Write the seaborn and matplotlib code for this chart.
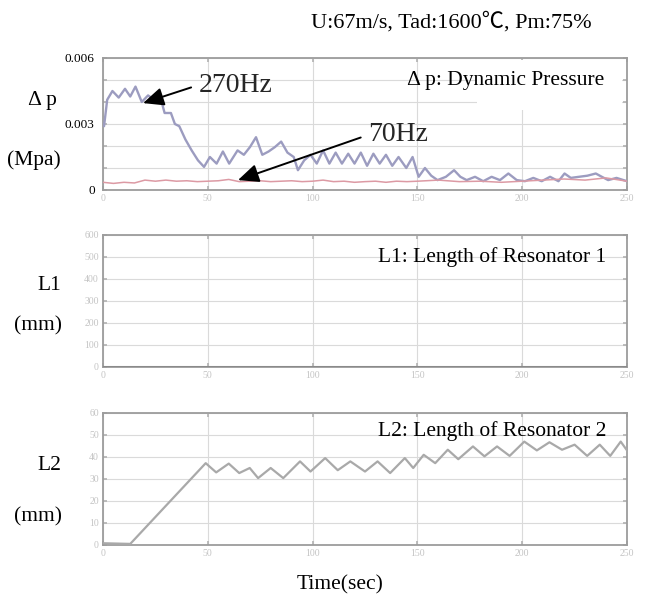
import matplotlib
matplotlib.use("Agg")
import matplotlib.pyplot as plt
import seaborn as sns
import pandas as pd
from matplotlib.patches import Rectangle

# ---------------- data ----------------
time_270 = [0, 0.5, 2, 4.5, 7.5, 10.5, 13, 15.5, 18.5, 21.5, 24.5, 27.4, 29.4, 32.4, 34.3,
            36.4, 39.3, 42.3, 45.3, 48.2, 51, 54.2, 57.2, 60.2, 64.2, 67.2, 70.1, 73, 76,
            79, 82, 85, 88, 91, 93, 96, 99, 102, 105, 108, 111, 114, 117, 120, 123, 126,
            129, 132, 135, 138, 141, 144.7, 147.7, 150.6, 153.6, 156.6, 159.6, 163.6,
            167.5, 170.5, 173.5, 177.5, 181.4, 185.4, 189.4, 193.4, 197.4, 201.3, 205.3,
            209.3, 213.3, 217.3, 220.2, 223.2, 227.1, 231.1, 235.1, 238, 241, 245, 250]
dp_270 = [3.0, 2.9, 4.1, 4.5, 4.2, 4.6, 4.25, 4.7, 4.0, 4.3, 4.1, 4.2, 3.5, 3.5, 3.0,
          2.9, 2.3, 1.8, 1.35, 1.05, 1.5, 1.2, 1.75, 1.2, 1.8, 1.6, 1.95, 2.4, 1.6,
          1.75, 1.95, 2.2, 1.7, 1.5, 0.9, 1.35, 1.6, 1.2, 1.8, 1.2, 1.7, 1.2, 1.65, 1.2,
          1.7, 1.1, 1.65, 1.2, 1.6, 1.1, 1.5, 1.0, 1.5, 0.6, 1.0, 0.65, 0.45, 0.6,
          0.9, 0.6, 0.45, 0.6, 0.4, 0.6, 0.45, 0.75, 0.45, 0.4, 0.55,
          0.4, 0.6, 0.4, 0.75, 0.55, 0.6, 0.65, 0.75, 0.6, 0.45, 0.55, 0.4]

time_70 = [0, 5, 10, 15, 20, 25, 30, 35, 40, 45, 50, 55, 60, 65, 70, 75, 80, 85, 90, 95,
           100, 105, 110, 115, 120, 125, 130, 135, 140, 145, 150, 160, 170, 180, 190,
           200, 210, 220, 230, 240, 250]
dp_70 = [0.35, 0.3, 0.35, 0.32, 0.45, 0.4, 0.45, 0.4, 0.42, 0.38, 0.4, 0.42, 0.48, 0.38,
         0.4, 0.42, 0.38, 0.4, 0.42, 0.38, 0.4, 0.45, 0.38, 0.4, 0.35, 0.38, 0.4, 0.35,
         0.4, 0.38, 0.4, 0.45, 0.38, 0.4, 0.35, 0.4, 0.45, 0.5, 0.45, 0.55, 0.4]

time_L1 = [0, 250]
len_L1 = [0, 0]

time_L2 = [0, 13, 49, 54, 60, 65, 70, 74, 80, 86, 94, 99, 106, 112, 118, 125, 131, 137,
           144, 148, 153, 158.5, 164.5, 169.5, 176.5, 182, 188, 194, 201, 207, 213, 219,
           225, 231, 237, 242, 247, 250]
len_L2 = [0.8, 0.5, 37.2, 33, 37, 32.7, 35, 30.4, 35, 30.4, 38, 33.4, 39.5, 34, 38, 33.4,
          38, 32.7, 39.5, 35, 41, 37.2, 43.3, 39, 44.8, 40.3, 44.8, 40.5, 47, 43, 46.7,
          43.3, 45.6, 40.5, 45.6, 40.5, 47, 43]

x_ticks = [0, 50, 100, 150, 200, 250]
dp_ticks = [0, 0.001, 0.002, 0.003, 0.004, 0.005, 0.006]
dp_ticklabels = ["0", "", "", "0.003", "", "", "0.006"]
L1_ticks = [0, 100, 200, 300, 400, 500, 600]
L2_ticks = [0, 10, 20, 30, 40, 50, 60]

df270 = pd.DataFrame({"t": time_270, "p": [v * 1e-3 for v in dp_270]})
df70 = pd.DataFrame({"t": time_70, "p": [v * 1e-3 for v in dp_70]})
dfL1 = pd.DataFrame({"t": time_L1, "L": len_L1})
dfL2 = pd.DataFrame({"t": time_L2, "L": len_L2})

# ---------------- style ----------------
sns.set_theme(style="whitegrid")
plt.rcParams["font.family"] = ["Liberation Serif", "DejaVu Serif", "DejaVu Sans"]

fig = plt.figure(figsize=(6.51, 5.97), dpi=100)
W, H = 651.0, 597.0
left, right = 103, 627
FS = 15.5


def add_ax(top, bottom):
    return fig.add_axes([left / W, 1 - bottom / H, (right - left) / W, (bottom - top) / H])


ax1 = add_ax(58, 190)
ax2 = add_ax(235, 367)
ax3 = add_ax(413, 545)

# top panel
sns.lineplot(data=df270, x="t", y="p", ax=ax1, color="#9c9cc0", lw=1.7, zorder=3)
sns.lineplot(data=df70, x="t", y="p", ax=ax1, color="#dc9aa4", lw=1.1, zorder=3)
# L1 panel
sns.lineplot(data=dfL1, x="t", y="L", ax=ax2, color="#8a8a8a", lw=2.2, zorder=3)
# L2 panel
sns.lineplot(data=dfL2, x="t", y="L", ax=ax3, color="#a9a9a9", lw=1.6, zorder=3)

grid_c = "#dadada"
spine_c = "#9c9c9c"
light_lab = "#c4c4c4"

for ax in (ax1, ax2, ax3):
    ax.set_facecolor("white")
    ax.set_axisbelow(True)
    ax.grid(True, color=grid_c, lw=0.8)
    for s in ax.spines.values():
        s.set_color(spine_c)
        s.set_linewidth(1.3)
        s.set_visible(True)
    ax.set_xlim(0, 250)
    ax.set_xticks(x_ticks)
    ax.tick_params(axis="both", direction="in", length=3, color="#b4b4b4",
                   top=True, right=True, bottom=True, left=True)
    ax.tick_params(axis="x", labelsize=7, labelcolor=light_lab, pad=3)
    ax.set_xlabel("")
    ax.set_ylabel("")

ax1.set_ylim(0, 0.006)
ax1.set_yticks(dp_ticks)
ax1.set_yticklabels(dp_ticklabels)
ax1.tick_params(axis="y", labelsize=9.5, labelcolor="black", pad=6)
ax1.add_patch(Rectangle((0.713, 0.606), 0.277, 0.38, transform=ax1.transAxes,
                        facecolor="white", edgecolor="none", zorder=1))
ax1.text(0.58, 0.833, "Δ p: Dynamic Pressure", transform=ax1.transAxes,
         ha="left", va="center", fontsize=FS, color="black", zorder=4)

arrow = dict(arrowstyle="-|>,head_length=0.9,head_width=0.4", color="black",
             lw=1.4, mutation_scale=14, shrinkA=3, shrinkB=0, relpos=(0, 0.5))
ax1.annotate("270Hz", xy=(19.1, 0.00395), xytext=(45.5, 0.00477), fontsize=20,
             ha="left", va="center", arrowprops=arrow, zorder=5)
ax1.annotate("70Hz", xy=(64.4, 0.00045), xytext=(126.4, 0.0025), fontsize=20,
             ha="left", va="center", arrowprops=arrow, zorder=5)

ax2.set_ylim(0, 600)
ax2.set_yticks(L1_ticks)
ax2.tick_params(axis="y", labelsize=7, labelcolor=light_lab, pad=3)
ax2.text(0.525, 0.833, "L1: Length of Resonator 1", transform=ax2.transAxes,
         ha="left", va="center", fontsize=FS, color="black")

ax3.set_ylim(0, 60)
ax3.set_yticks(L2_ticks)
ax3.tick_params(axis="y", labelsize=7, labelcolor=light_lab, pad=3)
ax3.text(0.525, 0.86, "L2: Length of Resonator 2", transform=ax3.transAxes,
         ha="left", va="center", fontsize=FS, color="black")


# side labels and titles
def ftext(x, y, s, size=FS, **kw):
    fig.text(x / W, 1 - y / H, s, fontsize=size, color="black", **kw)


ftext(28, 101, "Δ p", ha="left", va="center")
ftext(7, 160, "(Mpa)", ha="left", va="center")
ftext(37, 286, "L1", ha="left", va="center")
ftext(14, 326, "(mm)", ha="left", va="center")
ftext(37, 466, "L2", ha="left", va="center")
ftext(14, 517, "(mm)", ha="left", va="center")
ftext(340, 585, "Time(sec)", ha="center", va="center")
ftext(451, 22, "U:67m/s, Tad:1600℃, Pm:75%", size=16, ha="center", va="center",
      family=["Liberation Serif", "Noto Sans CJK JP", "DejaVu Sans"])

fig.savefig("out.png", dpi=100, facecolor="white")
